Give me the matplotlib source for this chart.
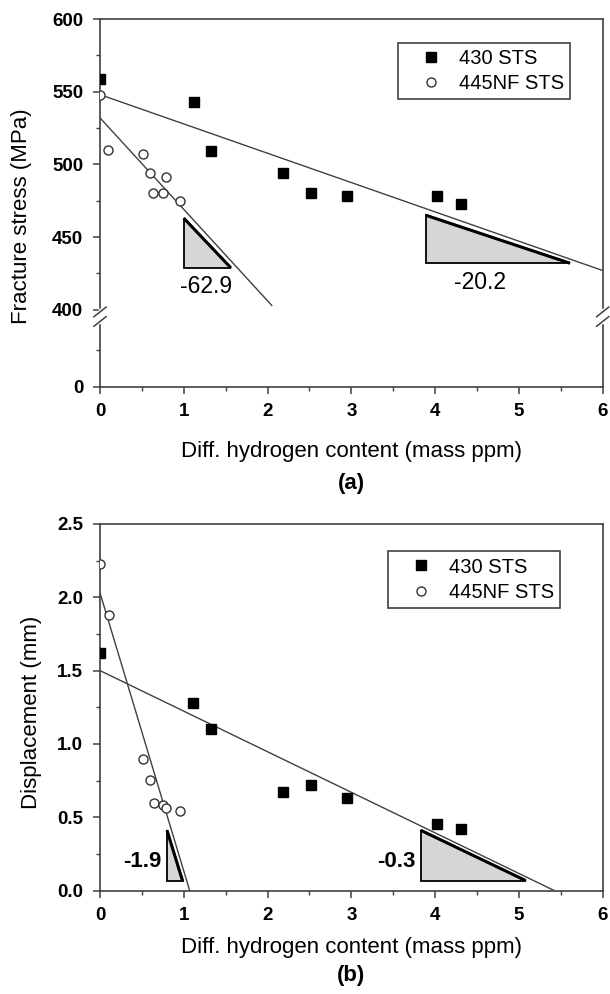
import matplotlib
matplotlib.use("Agg")
import matplotlib.pyplot as plt
from matplotlib.patches import Polygon

plt.rcParams["font.family"] = ["Liberation Sans", "DejaVu Sans"]

# ---- panel (a): fracture stress ----
a_430_x = [0.0, 1.12, 1.33, 2.18, 2.52, 2.95, 4.02, 4.31]
a_430_y = [559, 543, 509, 494, 480, 478, 478, 473]
a_445_x = [0.0, 0.10, 0.51, 0.60, 0.79, 0.63, 0.75, 0.95]
a_445_y = [548, 510, 507, 494, 491, 480, 480, 475]
a_fit430_x = [0, 6]
a_fit430_y = [548, 427]
a_fit445_x = [0, 2.05]
a_fit445_y = [532, 403]
a_tri1_x = [1.0, 1.0, 1.56]
a_tri1_y = [463, 429, 429]
a_tri2_x = [3.89, 3.89, 5.61]
a_tri2_y = [465, 432, 432]
a_slopes = ["-62.9", "-20.2"]

# ---- panel (b): displacement ----
b_430_x = [0.0, 1.11, 1.33, 2.18, 2.52, 2.95, 4.02, 4.31]
b_430_y = [1.62, 1.28, 1.10, 0.67, 0.72, 0.63, 0.455, 0.42]
b_445_x = [0.0, 0.11, 0.51, 0.60, 0.64, 0.75, 0.79, 0.95]
b_445_y = [2.23, 1.88, 0.895, 0.755, 0.60, 0.586, 0.56, 0.54]
b_fit430_x = [0, 5.42]
b_fit430_y = [1.5, 0.0]
b_fit445_x = [0, 1.07]
b_fit445_y = [2.03, 0.0]
b_tri1_x = [0.80, 0.80, 0.985]
b_tri1_y = [0.41, 0.066, 0.066]
b_tri2_x = [3.83, 3.83, 5.08]
b_tri2_y = [0.41, 0.068, 0.068]
b_slopes = ["-1.9", "-0.3"]

x_ticks = [0, 1, 2, 3, 4, 5, 6]
x_minor = [0.5, 1.5, 2.5, 3.5, 4.5, 5.5]
a_yticks = [400, 450, 500, 550, 600]
b_yticks = [0, 0.5, 1.0, 1.5, 2.0, 2.5]
b_yticklabels = ["0.0", "0.5", "1.0", "1.5", "2.0", "2.5"]
labels = ["430 STS", "445NF STS"]
xlabel = "Diff. hydrogen content (mass ppm)"

SPINE = "#404040"
LINE = "#404040"


def style_axes(ax):
    for s in ax.spines.values():
        s.set_color(SPINE)
        s.set_linewidth(1.2)
    ax.tick_params(which="major", direction="out", length=5, width=1.1,
                   color=SPINE, labelsize=13.5, pad=7)
    ax.tick_params(which="minor", direction="out", length=3, width=1.0,
                   color=SPINE)


def draw_triangle(ax, xs, ys):
    ax.add_patch(Polygon(list(zip(xs, ys)), closed=True, facecolor="#d6d6d6",
                         edgecolor="black", lw=1.3, zorder=2))
    ax.plot([xs[0], xs[2]], [ys[0], ys[2]], color="black", lw=2.2,
            solid_capstyle="butt", zorder=3)


def draw_data(ax, x430, y430, x445, y445):
    ax.plot(x430, y430, "s", color="black", ms=7, zorder=4, label=labels[0])
    ax.plot(x445, y445, "o", mfc="white", mec="#333333", mew=1.0, ms=6.5,
            zorder=4, label=labels[1])


def add_legend(ax, anchor):
    leg = ax.legend(loc="upper right", bbox_to_anchor=anchor,
                    fontsize=14.5, frameon=True, fancybox=False,
                    edgecolor=SPINE, framealpha=1, handlelength=2.6,
                    handletextpad=0.1, borderpad=0.3, labelspacing=0.3,
                    borderaxespad=0)
    leg.get_frame().set_linewidth(1.2)


fig = plt.figure(figsize=(6.1, 9.94), dpi=100)

left, width = 100 / 610, 502.7 / 610
ax_up = fig.add_axes([left, 1 - 313 / 994, width, 294 / 994])
ax_lo = fig.add_axes([left, 1 - 386.7 / 994, width, 73.7 / 994])
ax_b = fig.add_axes([left, 1 - 890.5 / 994, width, 366.5 / 994])

for ax in (ax_up, ax_lo, ax_b):
    style_axes(ax)

# upper part of (a)
draw_data(ax_up, a_430_x, a_430_y, a_445_x, a_445_y)
ax_up.plot(a_fit430_x, a_fit430_y, color=LINE, lw=1.0, zorder=3)
ax_up.plot(a_fit445_x, a_fit445_y, color=LINE, lw=1.0, zorder=3)
draw_triangle(ax_up, a_tri1_x, a_tri1_y)
draw_triangle(ax_up, a_tri2_x, a_tri2_y)
ax_up.text(1.26, 416, a_slopes[0], fontsize=16.5, ha="center", va="center")
ax_up.text(4.53, 419, a_slopes[1], fontsize=16.5, ha="center", va="center")
ax_up.set_xlim(0, 6)
ax_up.set_ylim(397.8, 600)
ax_up.set_yticks(a_yticks, [str(v) for v in a_yticks], fontweight="bold")
ax_up.set_yticks([425, 475, 525, 575], minor=True)
ax_up.spines["bottom"].set_visible(False)
ax_up.tick_params(axis="x", which="both", bottom=False, labelbottom=False)
add_legend(ax_up, (0.935, 0.92))

# lower part of (a)
ax_lo.set_ylim(0, 50.7)
ax_lo.set_yticks([0], ["0"], fontweight="bold")
ax_lo.set_yticks([25], minor=True)
ax_lo.spines["top"].set_visible(False)
ax_lo.set_xlim(0, 6)
ax_lo.set_xticks(x_ticks, [str(v) for v in x_ticks], fontweight="bold")
ax_lo.set_xticks(x_minor, minor=True)

# break marks on both vertical spines
for xb in (0, 1):
    ax_lo.plot([xb, xb], [0.88, 1.04], transform=ax_lo.transAxes,
               color="white", lw=2.5, clip_on=False, zorder=5)
    for y0 in (0.82, 0.95):
        ax_lo.plot([xb - 0.012, xb + 0.012], [y0, y0 + 0.13],
                   transform=ax_lo.transAxes, color=SPINE, lw=1.1,
                   clip_on=False, zorder=6)

fig.text(left + width / 2, 1 - 451.7 / 994, xlabel, fontsize=16,
         ha="center", va="center")
fig.text(left + width / 2, 1 - 483 / 994, "(a)", fontsize=16, fontweight="bold",
         ha="center", va="center")
fig.text(22 / 610, 1 - 216 / 994, "Fracture stress (MPa)", fontsize=16,
         rotation=90, ha="center", va="center")

# panel (b)
draw_data(ax_b, b_430_x, b_430_y, b_445_x, b_445_y)
ax_b.plot(b_fit430_x, b_fit430_y, color=LINE, lw=1.0, zorder=3)
ax_b.plot(b_fit445_x, b_fit445_y, color=LINE, lw=1.0, zorder=3)
draw_triangle(ax_b, b_tri1_x, b_tri1_y)
draw_triangle(ax_b, b_tri2_x, b_tri2_y)
ax_b.text(0.74, 0.195, b_slopes[0], fontsize=16, fontweight="bold", ha="right",
          va="center")
ax_b.text(3.76, 0.2, b_slopes[1], fontsize=16, fontweight="bold", ha="right",
          va="center")
ax_b.set_xlim(0, 6)
ax_b.set_ylim(0, 2.5)
ax_b.set_xticks(x_ticks, [str(v) for v in x_ticks], fontweight="bold")
ax_b.set_xticks(x_minor, minor=True)
ax_b.set_yticks(b_yticks, b_yticklabels, fontweight="bold")
ax_b.set_yticks([0.25, 0.75, 1.25, 1.75, 2.25], minor=True)
add_legend(ax_b, (0.915, 0.925))

fig.text(left + width / 2, 1 - 947 / 994, xlabel, fontsize=16,
         ha="center", va="center")
fig.text(left + width / 2, 1 - 976 / 994, "(b)", fontsize=16, fontweight="bold",
         ha="center", va="center")
fig.text(32 / 610, 1 - 712 / 994, "Displacement (mm)", fontsize=16,
         rotation=90, ha="center", va="center")

fig.savefig("out.png", dpi=100)
